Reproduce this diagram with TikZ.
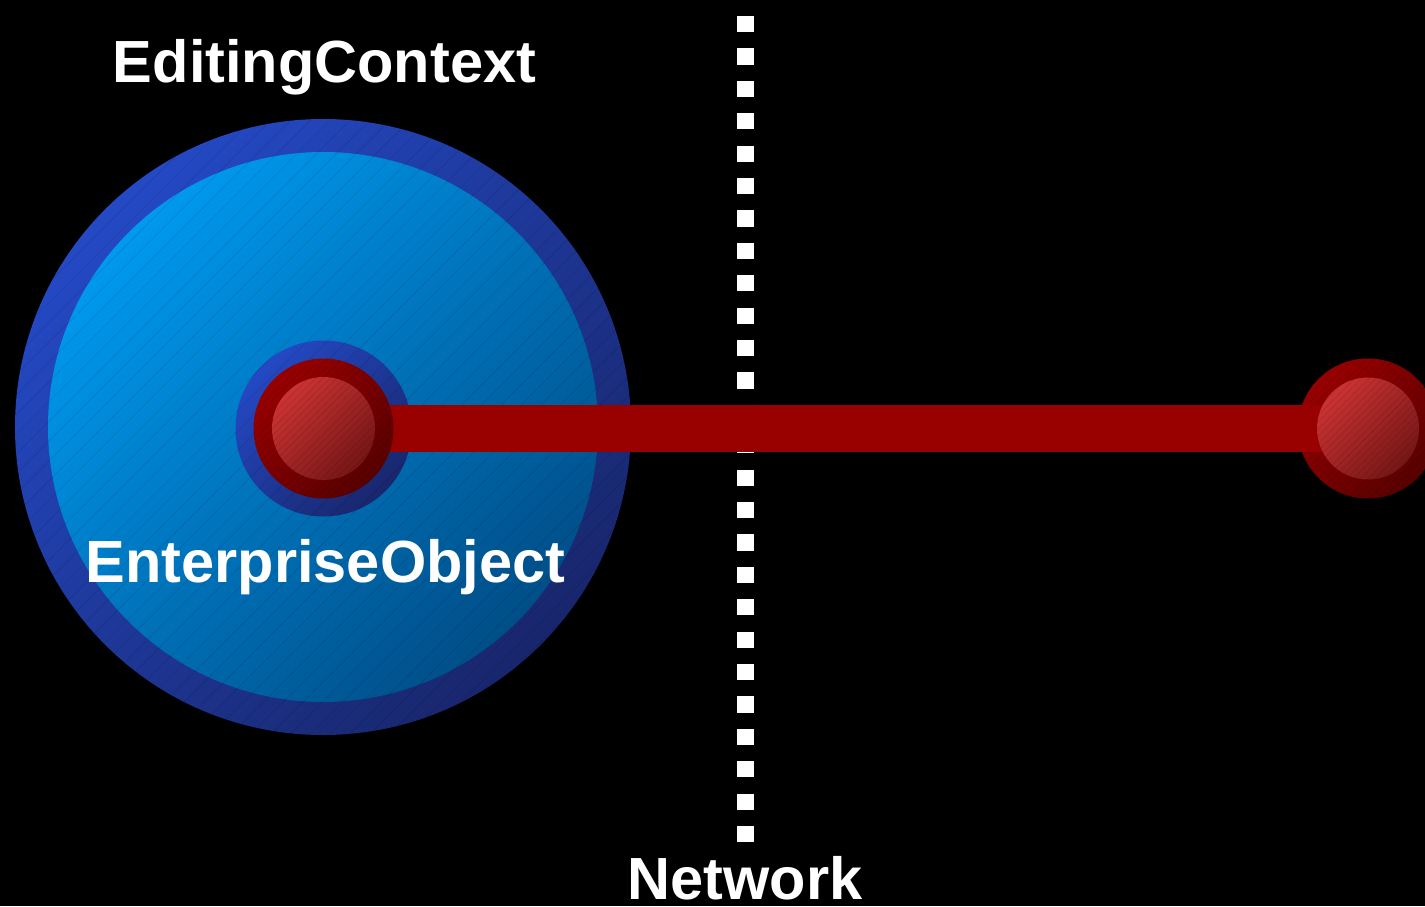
\documentclass[tikz,border=0pt]{standalone}
\usepackage{fontspec}
\setmainfont{Liberation Sans}
\usetikzlibrary{patterns.meta}
\definecolor{ctxrim}{HTML}{2449C4}
\definecolor{ctxrimdark}{HTML}{18266C}
\definecolor{ctxlight}{HTML}{0099EE}
\definecolor{ctxdark}{HTML}{004E88}
\definecolor{linkred}{HTML}{990000}
\definecolor{linkdark}{HTML}{580000}
\definecolor{balllight}{HTML}{CC3333}
\definecolor{balldark}{HTML}{761616}
\tikzset{
  disc/.style={circle, inner sep=0pt, minimum size=#1},
  tint/.style 2 args={top color=#1, bottom color=#2, shading angle=45},
  hatch/.style={postaction={pattern={Lines[angle=45, distance=#1, line width=0.5pt]},
                pattern color=black, opacity=0.14}},
  hatch/.default=14pt,
  lbl/.style={text=white, font=\fontsize{59.5}{59.5}\selectfont\bfseries,
              anchor=base, inner sep=0pt},
  link/.style={line width=47pt, draw=linkred},
  netline/.style={line width=17pt, draw=white, dash pattern=on 16.2pt off 16.2pt},
}

\begin{document}
\begin{tikzpicture}[x=1pt, y=-1pt]
  \fill[black] (0,0) rectangle (1425,906);
  \useasboundingbox (0,0) rectangle (1425,906);

  \node[disc=616pt, tint={ctxrim}{ctxrimdark}, hatch] (ctx) at (323,427) {};
  \node[disc=550pt, tint={ctxlight}{ctxdark}, hatch] (ctxcore) at (ctx.center) {};

  \coordinate (nettop) at (745.5,16);
  \coordinate (netbot) at (745.5,842);
  \draw[netline] (nettop) -- (netbot);

  \node[disc=176pt, tint={ctxrim}{ctxrimdark}, hatch] (eo) at (323.5,428.5) {};
  \node[disc=140pt, tint={linkred}{linkdark}, hatch=5pt] (remote) at (1368,428.5) {};
  \draw[link] (eo.center) -- (remote.center);
  \node[disc=140pt, tint={linkred}{linkdark}, hatch=5pt] (eoring) at (eo.center) {};
  \node[disc=103pt, tint={balllight}{balldark}, hatch=5pt] (eoball) at (eo.center) {};
  \node[disc=102pt, tint={balllight}{balldark}, hatch=5pt] (remoteball) at (remote.center) {};

  \node[lbl] (ctxlabel) at (324.5,82) {EditingContext};
  \node[lbl] (eolabel) at (325.5,582) {EnterpriseObject};
  \node[lbl] (netlabel) at (745,899) {Network};
\end{tikzpicture}
\end{document}
